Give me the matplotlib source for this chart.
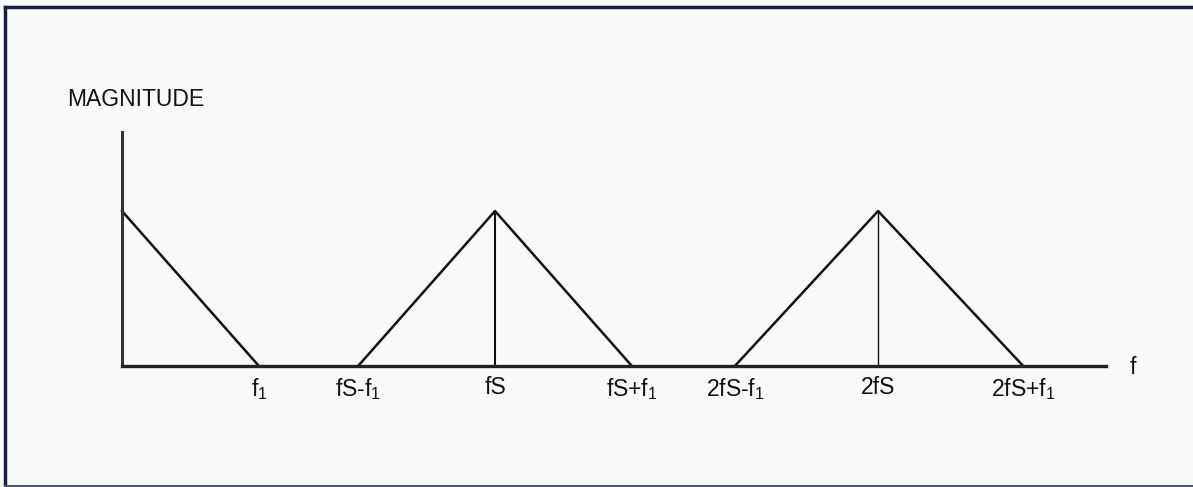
import matplotlib
matplotlib.use("Agg")
import matplotlib.pyplot as plt

plt.rcParams['font.family'] = ['Liberation Sans Narrow', 'Liberation Sans', 'DejaVu Sans']
plt.rcParams['mathtext.default'] = 'regular'

# Frequencies (in units of fs) and magnitudes
baseband_f = [0.0, 0.367]
baseband_mag = [1.0, 0.0]
image1_f = [0.633, 1.0, 1.367]
image1_mag = [0.0, 1.0, 0.0]
image2_f = [1.643, 2.027, 2.416]
image2_mag = [0.0, 1.0, 0.0]
marker_f = [1.0, 2.027]
marker_mag = [1.0, 1.0]
tick_pos = [0.367, 0.633, 1.0, 1.367, 1.643, 2.027, 2.416]
tick_labels = ['f$_1$', 'fS-f$_1$', 'fS', 'fS+f$_1$', '2fS-f$_1$', '2fS', '2fS+f$_1$']

W, H = 1193, 487
fig = plt.figure(figsize=(W / 100, H / 100), dpi=100)
bg = '#f9fbf9'
fig.patch.set_facecolor(bg)

# outer frame (left, top, bottom edges)
navy = '#1c1c48'
fig.add_artist(plt.Line2D([5 / W, 5 / W], [1 - 7 / H, 1 / H], transform=fig.transFigure, color=navy, lw=2.5))
fig.add_artist(plt.Line2D([5 / W, 1], [1 - 7 / H, 1 - 7 / H], transform=fig.transFigure, color=navy, lw=2.5))
fig.add_artist(plt.Line2D([5 / W, 1], [1.2 / H, 1.2 / H], transform=fig.transFigure, color='#555570', lw=1.5))

ax = fig.add_axes([122 / W, (H - 366) / H, (1106 - 122) / W, (366 - 132) / H])
ax.set_facecolor(bg)
ax.set_xlim(0, 2.638)
ax.set_ylim(0, 1.51)

for s in ['top', 'right']:
    ax.spines[s].set_visible(False)
ax.spines['left'].set_color('#333333')
ax.spines['left'].set_linewidth(2.2)
ax.spines['bottom'].set_color('#222222')
ax.spines['bottom'].set_linewidth(2.4)

lc = '#111111'
ax.plot(baseband_f, baseband_mag, color=lc, lw=1.8, clip_on=False)
ax.plot(image1_f, image1_mag, color=lc, lw=1.8, clip_on=False)
ax.plot(image2_f, image2_mag, color=lc, lw=1.8, clip_on=False)
ax.vlines(marker_f, 0, marker_mag, color=lc, lw=[1.5, 1.0])

ax.set_yticks([])
ax.set_xticks(tick_pos)
ax.set_xticklabels(tick_labels, fontsize=16.5)
ax.tick_params(axis='x', length=0, pad=7, colors='#111111')

fig.text(67 / W, 1 - 99 / H, 'MAGNITUDE', fontsize=16.5, ha='left', va='center', color='#111111')
fig.text(1133 / W, 1 - 368 / H, 'f', fontsize=16.5, ha='center', va='center', color='#111111')

fig.savefig('out.png', dpi=100, facecolor=bg)
